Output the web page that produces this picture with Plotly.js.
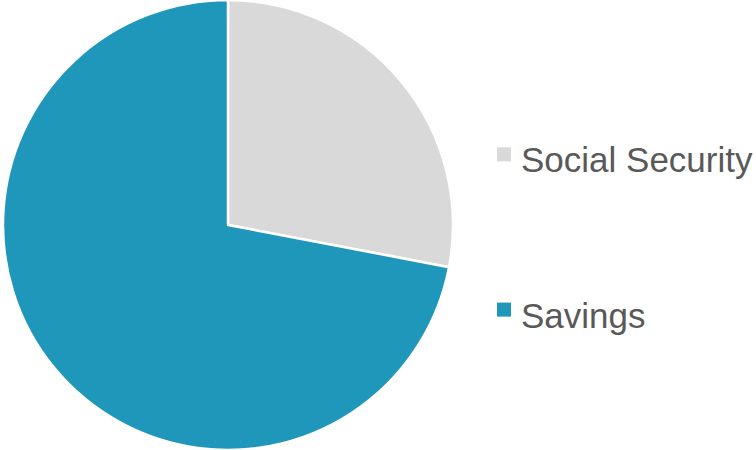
<!DOCTYPE html>
<html>
<head>
<meta charset="utf-8">
<script src="https://cdn.plot.ly/plotly-3.0.1.min.js"></script>
<style>html,body{margin:0;padding:0;background:#fff;}#chart{width:756px;height:450px;}</style>
</head>
<body>
<div id="chart"></div>
<script>
const categories = ["Social Security", "Savings"];
const values = [28, 72];
const colors = ["#D9D9D9", "#1F97BA"];

const legendY = [0.645, 0.30];

const trace = {
  type: "pie",
  labels: categories,
  values: values,
  sort: false,
  direction: "clockwise",
  rotation: 0,
  marker: { colors: colors, line: { color: "#FFFFFF", width: 2.5 } },
  textinfo: "none",
  hoverinfo: "label+percent",
  showlegend: false,
  domain: { x: [3/756, 453/756], y: [0, 1] }
};

const annotations = categories.map((c, i) => ({
  xref: "paper", yref: "paper",
  x: 519/756, y: legendY[i],
  xanchor: "left", yanchor: "middle",
  text: c, showarrow: false,
  font: { family: "Liberation Sans, Arial, sans-serif", size: 35, color: "#595959" }
}));

const shapes = categories.map((c, i) => ({
  type: "rect", xref: "paper", yref: "paper",
  x0: 497/756, x1: 511/756,
  y0: legendY[i] - 7/450 + 0.012, y1: legendY[i] + 7/450 + 0.012,
  fillcolor: colors[i], line: { width: 0 }
}));

const layout = {
  width: 756, height: 450,
  margin: { l: 0, r: 0, t: 0, b: 0 },
  paper_bgcolor: "#FFFFFF",
  showlegend: false,
  annotations: annotations,
  shapes: shapes
};

Plotly.newPlot("chart", [trace], layout, { displayModeBar: false, staticPlot: true });
</script>
</body>
</html>
